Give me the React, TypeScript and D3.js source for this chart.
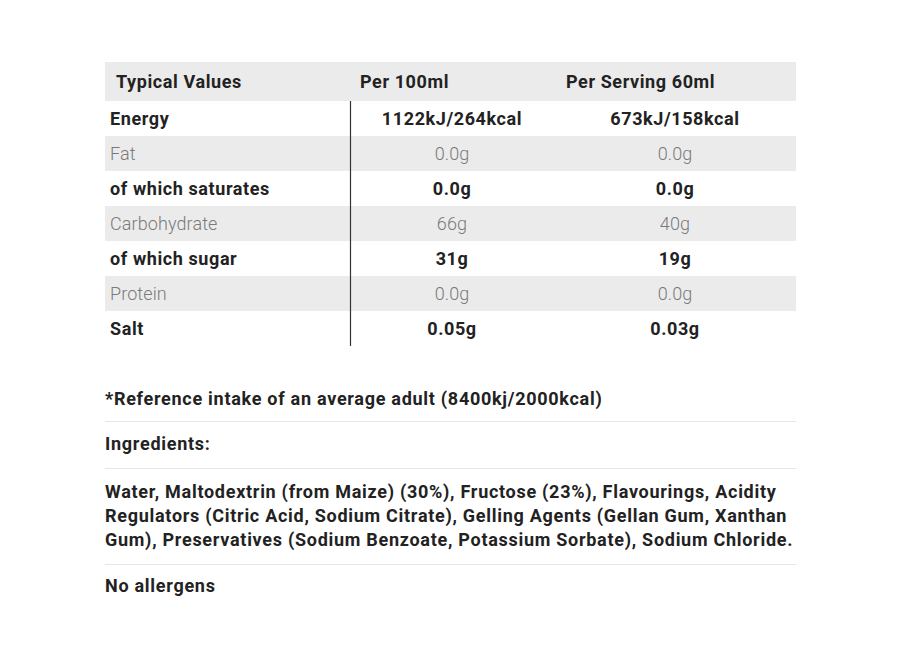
import React from "react";
import * as d3 from "d3";

const headers = ["Typical Values", "Per 100ml", "Per Serving 60ml"];
const nutrients = ["Energy", "Fat", "of which saturates", "Carbohydrate", "of which sugar", "Protein", "Salt"];
const per100 = ["1122kJ/264kcal", "0.0g", "0.0g", "66g", "31g", "0.0g", "0.05g"];
const perServing = ["673kJ/158kcal", "0.0g", "0.0g", "40g", "19g", "0.0g", "0.03g"];
const boldRows = [true, false, true, false, true, false, true];
const footnote = "*Reference intake of an average adult (8400kj/2000kcal)";
const ingredientsTitle = "Ingredients:";
const ingredientLines = [
  "Water, Maltodextrin (from Maize) (30%), Fructose (23%), Flavourings, Acidity",
  "Regulators (Citric Acid, Sodium Citrate), Gelling Agents (Gellan Gum, Xanthan",
  "Gum), Preservatives (Sodium Benzoate, Potassium Sorbate), Sodium Chloride.",
];
const allergens = "No allergens";

const W = 900;
const H = 660;
const FONT = "Roboto, 'DejaVu Sans', sans-serif";
const FS = 18;
const LSB = 0.6;
const LSP = 0.72;

export default function App() {
  const x0 = 105, x1 = 796;
  const headerTop = 62, headerBottom = 101;
  const y = d3.scaleBand<string>().domain(nutrients).range([headerBottom, 346]).paddingInner(0);
  const dark = "#222";
  const grey = "#7a7a7a";
  const bg = "#ebebeb";
  const col2 = 452, col3 = 675;
  const hy = (headerTop + headerBottom) / 2 + 6;
  return (
    <svg width={W} height={H} style={{ position: "absolute", left: 0, top: 0, fontFamily: FONT }}>
      <rect x={0} y={0} width={W} height={H} fill="#fff" />
      <rect x={x0} y={headerTop} width={x1 - x0} height={headerBottom - headerTop} fill={bg} />
      <text x={116} y={hy} fontSize={FS} fontWeight={700} fill={dark} letterSpacing={LSB}>{headers[0]}</text>
      <text x={360} y={hy} fontSize={FS} fontWeight={700} fill={dark} letterSpacing={LSB}>{headers[1]}</text>
      <text x={566} y={hy} fontSize={FS} fontWeight={700} fill={dark} letterSpacing={LSB}>{headers[2]}</text>
      {nutrients.map((n, i) => {
        const yy = y(n)!;
        const mid = yy + y.bandwidth() / 2 + 6;
        const b = boldRows[i];
        const fill = b ? dark : grey;
        const fw = b ? 700 : 300;
        const ls = b ? LSB : 0.1;
        return (
          <g key={n}>
            {!b && <rect x={x0} y={yy} width={x1 - x0} height={y.bandwidth()} fill={bg} />}
            <text x={110} y={mid} fontSize={FS} fontWeight={fw} fill={fill} letterSpacing={ls}>{n}</text>
            <text x={col2} y={mid} fontSize={FS} fontWeight={fw} fill={fill} textAnchor="middle" letterSpacing={ls}>{per100[i]}</text>
            <text x={col3} y={mid} fontSize={FS} fontWeight={fw} fill={fill} textAnchor="middle" letterSpacing={ls}>{perServing[i]}</text>
          </g>
        );
      })}
      <line x1={350.5} x2={350.5} y1={headerBottom} y2={346} stroke="#333" strokeWidth={1.2} />
      <text x={105} y={405} fontSize={FS} fontWeight={700} fill={dark} letterSpacing={LSP}>{footnote}</text>
      <line x1={x0} x2={x1} y1={421.5} y2={421.5} stroke="#e6e6e6" />
      <text x={105} y={450} fontSize={FS} fontWeight={700} fill={dark} letterSpacing={LSP}>{ingredientsTitle}</text>
      <line x1={x0} x2={x1} y1={468.5} y2={468.5} stroke="#e6e6e6" />
      {ingredientLines.map((l, i) => (
        <text key={i} x={105} y={498 + i * 24} fontSize={FS} fontWeight={700} fill={dark} letterSpacing={LSP}>{l}</text>
      ))}
      <line x1={x0} x2={x1} y1={564.5} y2={564.5} stroke="#e6e6e6" />
      <text x={105} y={592} fontSize={FS} fontWeight={700} fill={dark} letterSpacing={LSP}>{allergens}</text>
    </svg>
  );
}
